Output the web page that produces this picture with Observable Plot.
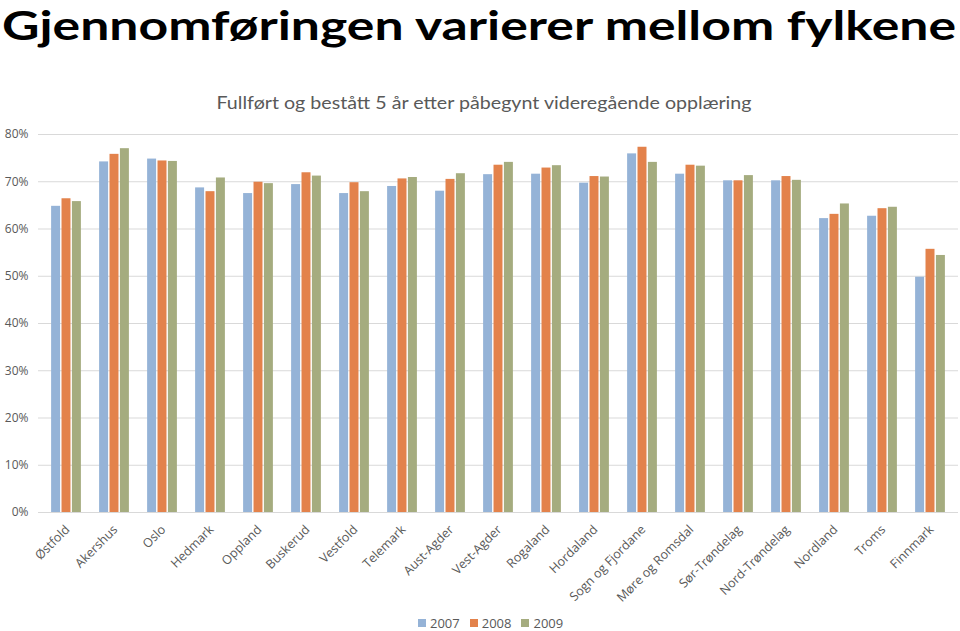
<!DOCTYPE html>
<html>
<head>
<meta charset="utf-8">
<script src="https://cdn.jsdelivr.net/npm/d3@7"></script>
<script src="https://cdn.jsdelivr.net/npm/@observablehq/plot@0.6"></script>
<style>
  html, body { margin: 0; padding: 0; background: #fff; }
  #wrap { position: relative; width: 960px; height: 631px; overflow: hidden; font-family: Lato, "Open Sans", sans-serif; }
  #wrap > * { position: absolute; left: 0; top: 0; }
  #legend { top: 616px; left: 418px; display: flex; align-items: center; font-size: 13px; line-height: 14px; color: #595959; font-family: "Open Sans", sans-serif; }
  #legend span.sw { display: inline-block; width: 8px; height: 8px; margin-right: 4px; }
  #legend span.lb { margin-right: 10px; }
</style>
</head>
<body>
<div id="wrap"></div>
<script>
const counties = ["Østfold","Akershus","Oslo","Hedmark","Oppland","Buskerud","Vestfold","Telemark","Aust-Agder","Vest-Agder","Rogaland","Hordaland","Sogn og Fjordane","Møre og Romsdal","Sør-Trøndelag","Nord-Trøndelag","Nordland","Troms","Finnmark"];
const years = ["2007","2008","2009"];
const v2007 = [64.8,74.2,74.8,68.7,67.5,69.4,67.5,69.0,68.0,71.5,71.6,69.7,75.9,71.6,70.2,70.2,62.2,62.7,49.8];
const v2008 = [66.4,75.8,74.4,67.9,69.9,71.9,69.8,70.6,70.5,73.5,72.9,71.1,77.3,73.5,70.2,71.1,63.1,64.3,55.7];
const v2009 = [65.8,77.0,74.3,70.8,69.6,71.2,67.9,70.9,71.7,74.1,73.4,71.0,74.1,73.3,71.3,70.3,65.3,64.6,54.4];
const yTicks = [0,10,20,30,40,50,60,70,80];
const colors = ["#95b3d7","#e3824b","#a5ac7f"];
const title = "Gjennomføringen varierer mellom fylkene";
const subtitle = "Fullført og bestått 5 år etter påbegynt videregående opplæring";

const series = [v2007, v2008, v2009];
const data = years.map((yr, i) => counties.map((c, j) => ({county: c, year: yr, value: series[i][j]})));

const step = 920 / counties.length;
const barW = 9.4;
const inset = (step - barW) / 2;
const offsets = [-10.4, 0, 10.4];

const wrap = document.getElementById("wrap");

const chart = Plot.plot({
  width: 960,
  height: 631,
  marginTop: 134,
  marginBottom: 119,
  marginLeft: 38,
  marginRight: 2,
  style: {background: "transparent", fontFamily: "'Open Sans', sans-serif", color: "#595959"},
  x: {domain: counties, padding: 0, label: null, axis: null},
  y: {domain: [0, 80], label: null},
  color: {domain: years, range: colors},
  marks: [
    Plot.gridY(yTicks, {stroke: "#d9d9d9", strokeOpacity: 1, strokeWidth: 1}),
    ...data.map((d, i) => Plot.barY(d, {x: "county", y: "value", fill: "year", insetLeft: inset, insetRight: inset, dx: offsets[i]})),
    Plot.ruleY([0], {stroke: "#d9d9d9"}),
    Plot.axisY(yTicks, {tickSize: 0, tickPadding: 10, tickFormat: d => d + "%", fontSize: 12, fill: "#595959", label: null}),
    Plot.text(counties, {x: d => d, y: () => 0, text: d => d, rotate: -45, textAnchor: "end", lineAnchor: "middle", dx: 1, dy: 15, fontSize: 12.5, fill: "#595959"})
  ]
});
wrap.appendChild(chart);

const ns = "http://www.w3.org/2000/svg";
const tsvg = document.createElementNS(ns, "svg");
tsvg.setAttribute("width", 960);
tsvg.setAttribute("height", 120);
tsvg.style.fontFamily = "Lato, 'Open Sans', sans-serif";
const t1 = document.createElementNS(ns, "text");
t1.setAttribute("x", 2);
t1.setAttribute("y", 39.5);
t1.setAttribute("font-size", 40);
t1.setAttribute("font-weight", "bold");
t1.setAttribute("fill", "#000");
t1.setAttribute("textLength", 954);
t1.setAttribute("lengthAdjust", "spacingAndGlyphs");
t1.textContent = title;
tsvg.appendChild(t1);
const t2 = document.createElementNS(ns, "text");
t2.setAttribute("x", 484);
t2.setAttribute("y", 109);
t2.setAttribute("font-size", 18);
t2.setAttribute("fill", "#595959");
t2.setAttribute("text-anchor", "middle");
t2.setAttribute("textLength", 535);
t2.setAttribute("lengthAdjust", "spacingAndGlyphs");
t2.textContent = subtitle;
tsvg.appendChild(t2);
wrap.appendChild(tsvg);

const legend = document.createElement("div");
legend.id = "legend";
years.forEach((yr, i) => {
  const sw = document.createElement("span");
  sw.className = "sw";
  sw.style.background = colors[i];
  const lb = document.createElement("span");
  lb.className = "lb";
  lb.textContent = yr;
  legend.appendChild(sw);
  legend.appendChild(lb);
});
wrap.appendChild(legend);
</script>
</body>
</html>
